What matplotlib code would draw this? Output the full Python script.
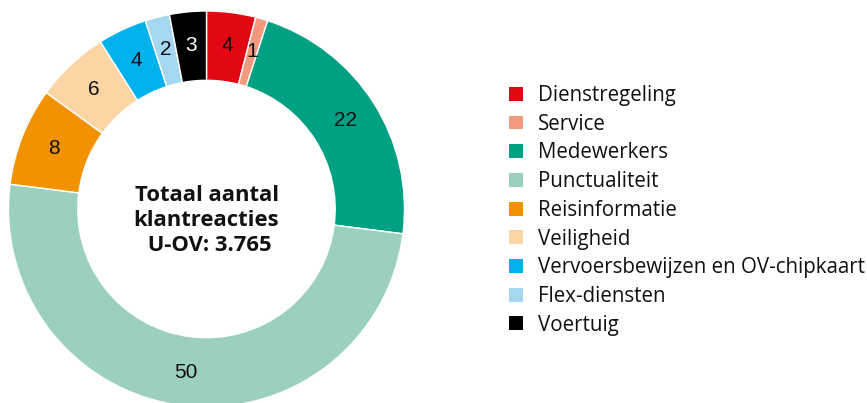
"""
Donut: klantreacties U-OV per categorie (procenten)
"""

import matplotlib
matplotlib.use('Agg')
import matplotlib.pyplot as plt
from matplotlib.patches import Patch

# Gegevens
categorieen = ['Dienstregeling', 'Service', 'Medewerkers', 'Punctualiteit',
               'Reisinformatie', 'Veiligheid', 'Vervoersbewijzen en OV-chipkaart',
               'Flex-diensten', 'Voertuig']
percentages = [4, 1, 22, 50, 8, 6, 4, 2, 3]
kleuren = ['#E30613', '#F39A7E', '#00A183', '#9BD0C1', '#F39200',
           '#FCD5A5', '#00B1EB', '#A5D8F0', '#000000']
titel_midden = 'Totaal aantal\nklantreacties\n U-OV: 3.765'

W, H = 867, 403
fig = plt.figure(figsize=(W / 100, H / 100), dpi=100)

# Donut: middelpunt (206.5, 209) px vanaf linksboven, straal 198 px
cx, cy, r = 206.5, 209, 198
ax = fig.add_axes([(cx - r) / W, (H - cy - r) / H, 2 * r / W, 2 * r / H])

wedges, teksten, autoteksten = ax.pie(
    percentages,
    colors=kleuren,
    startangle=90,
    counterclock=False,
    radius=1,
    autopct=lambda p: f'{p:.0f}',
    pctdistance=0.83,
    wedgeprops=dict(width=0.35, edgecolor='white', linewidth=1),
)
for t, k in zip(autoteksten, kleuren):
    t.set_fontfamily('Liberation Sans')
    t.set_fontsize(15)
    # witte tekst op het zwarte segment
    t.set_color('white' if k == '#000000' else '#111111')

ax.text(0, -0.057, titel_midden, ha='center', va='center',
        fontsize=15.8, fontweight='bold', family='Open Sans',
        linespacing=1.24, color='#111111')

ax.set_xlim(-1, 1)
ax.set_ylim(-1, 1)
ax.set_aspect('equal')
ax.axis('off')

# Legenda
handles = [Patch(facecolor=k, edgecolor='none') for k in kleuren]
fig.legend(handles, categorieen,
           loc='upper left', bbox_to_anchor=(509 / W, 1 - 85 / H),
           frameon=False, prop={'family': 'Open Sans', 'size': 14.8},
           handlelength=0.67, handleheight=0.67, handletextpad=0.72,
           labelspacing=0.375, borderpad=0, borderaxespad=0,
           labelcolor='#111111')

fig.savefig('out.png', dpi=100)
